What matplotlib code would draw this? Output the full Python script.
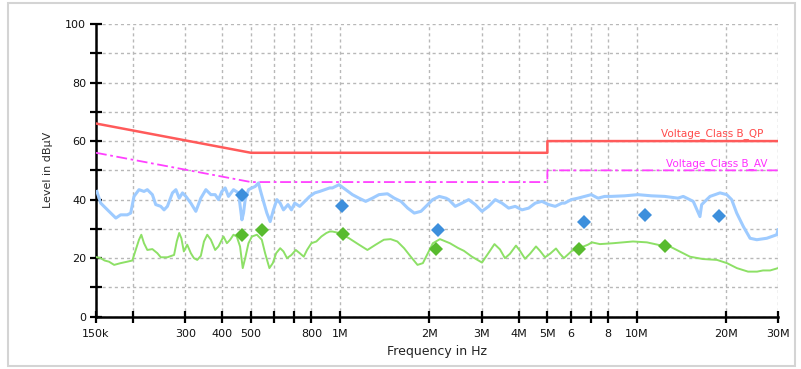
import matplotlib
matplotlib.use("Agg")
import matplotlib.pyplot as plt
from matplotlib.patches import Rectangle

# ---------------- data (frequency in MHz, level in dBuV) ----------------
qp_limit_f = [0.15, 0.5, 5.0, 5.0, 30.0]
qp_limit_v = [66, 56, 56, 60, 60]
av_limit_f = [0.15, 0.5, 5.0, 5.0, 30.0]
av_limit_v = [56, 46, 46, 50, 50]

peak_f = [0.151, 0.1556, 0.1659, 0.1750, 0.1816, 0.1913, 0.1964, 0.2015, 0.2095, 0.2178,
          0.2235, 0.2324, 0.2386, 0.2481, 0.2545, 0.2612, 0.2717, 0.2790, 0.2863, 0.2937,
          0.3015, 0.3134, 0.3258, 0.3387, 0.3522, 0.3661, 0.3786, 0.3884, 0.3988, 0.4092,
          0.4198, 0.4364, 0.4538, 0.4660, 0.4718, 0.4780, 0.4904, 0.5036, 0.5166, 0.5300,
          0.5370, 0.5509, 0.5657, 0.5804, 0.5955, 0.6115, 0.6273, 0.6436, 0.6668, 0.6847,
          0.7024, 0.7303, 0.7592, 0.7893, 0.8206, 0.8530, 0.8868, 0.9220, 0.9415, 0.9909,
          1.0438, 1.0996, 1.1574, 1.2192, 1.2845, 1.3518, 1.4433, 1.5222, 1.6035, 1.6892,
          1.7780, 1.8731, 1.9474, 2.0514, 2.1591, 2.2743, 2.3229, 2.4447, 2.5753, 2.7129,
          2.8557, 3.0083, 3.1690, 3.3357, 3.5139, 3.7015, 3.8965, 4.1045, 4.3237, 4.5513,
          4.7945, 5.0506, 5.3164, 5.6006, 5.7191, 6.0201, 6.3416, 6.6804, 7.0321, 7.4076,
          7.8034, 8.2126, 9.1158, 10.107, 11.207, 12.436, 13.788, 14.369, 15.53, 16.36,
          16.58, 17.69, 19.12, 20.14, 20.93, 21.77, 22.92, 24.15, 25.44, 27.50,
          29.71, 30.0]
peak_v = [42.8, 38.8, 36.0, 33.7, 34.8, 34.8, 35.4, 41.1, 43.4, 42.8,
          43.4, 41.7, 38.3, 37.7, 36.5, 37.7, 42.3, 43.4, 40.5, 42.3,
          41.1, 38.8, 36.0, 40.5, 43.4, 41.7, 41.7, 40.0, 42.8, 44.0,
          41.1, 43.4, 42.3, 33.1, 35.4, 40.0, 43.4, 44.0, 44.5, 45.7,
          43.4, 39.4, 35.4, 32.5, 36.5, 40.0, 38.8, 36.5, 38.3, 36.5,
          38.8, 37.7, 39.4, 41.1, 42.3, 42.8, 43.4, 44.0, 44.0, 45.1,
          43.4, 41.7, 40.5, 39.4, 40.5, 41.7, 42.0, 40.5, 39.4, 37.1,
          35.4, 36.0, 37.7, 40.0, 41.1, 40.5, 40.0, 37.7, 38.8, 40.0,
          38.3, 36.0, 37.7, 40.0, 38.8, 37.1, 37.7, 36.5, 37.1, 38.8,
          39.4, 38.3, 37.7, 38.8, 38.8, 40.0, 40.5, 41.1, 41.7, 40.5,
          41.1, 41.1, 41.3, 41.7, 41.3, 41.1, 40.5, 41.1, 39.4, 34.2,
          38.3, 41.1, 42.3, 41.7, 40.0, 35.4, 30.8, 26.8, 26.3, 26.8,
          28.0, 29.7]

avg_f = [0.151, 0.1556, 0.1603, 0.1659, 0.1727, 0.1816, 0.1913, 0.1989, 0.2042, 0.2095,
         0.2133, 0.2178, 0.2235, 0.2324, 0.2416, 0.2481, 0.2612, 0.2751, 0.2809, 0.2863,
         0.2911, 0.2968, 0.3047, 0.3134, 0.3210, 0.3294, 0.3387, 0.3470, 0.3560, 0.3661,
         0.3786, 0.3884, 0.4039, 0.4147, 0.4254, 0.4364, 0.4477, 0.4593, 0.4690, 0.4780,
         0.4904, 0.5036, 0.5235, 0.5438, 0.5580, 0.5769, 0.5924, 0.6081, 0.6273, 0.6436,
         0.6616, 0.6847, 0.7082, 0.7303, 0.7533, 0.7728, 0.7994, 0.8311, 0.8641, 0.8984,
         0.9220, 0.9415, 0.9909, 1.0712, 1.1574, 1.2354, 1.3171, 1.4041, 1.4798, 1.5587,
         1.6427, 1.7304, 1.8232, 1.9008, 1.9761, 2.0540, 2.1706, 2.3457, 2.4960, 2.6151,
         2.7831, 3.0083, 3.1518, 3.3150, 3.4594, 3.5966, 3.7393, 3.9183, 4.0420, 4.2026,
         4.3690, 4.5774, 4.7218, 4.9093, 5.1038, 5.3460, 5.5136, 5.6868, 6.0500, 6.4390,
         6.8521, 7.0681, 7.5209, 8.3217, 9.7230, 10.838, 12.270, 12.94, 15.14, 16.74,
         18.68, 20.18, 21.80, 23.77, 25.50, 26.7, 28.22, 30.0]
avg_v = [20.3, 20.0, 19.2, 18.8, 17.7, 18.3, 18.8, 19.2, 22.8, 26.3,
         28.0, 25.1, 22.8, 23.1, 21.7, 20.3, 20.3, 21.1, 25.7, 28.6,
         26.8, 22.3, 24.6, 21.7, 20.0, 19.4, 20.8, 25.7, 28.0, 26.3,
         22.8, 24.0, 27.4, 25.1, 26.3, 28.0, 27.4, 24.0, 16.6, 20.0,
         25.1, 27.4, 28.0, 26.3, 21.7, 16.6, 18.3, 21.7, 23.4, 22.3,
         20.0, 21.1, 22.8, 21.7, 20.5, 22.8, 25.1, 25.7, 27.4, 28.6,
         29.1, 29.1, 28.6, 26.8, 24.6, 22.8, 24.6, 26.3, 26.5, 25.7,
         23.4, 20.5, 17.7, 18.3, 21.7, 25.1, 26.5, 25.1, 23.5, 22.5,
         20.5, 18.5, 21.5, 24.8, 23.0, 20.0, 21.5, 24.3, 22.5, 19.8,
         21.5, 24.0, 22.5, 20.3, 21.5, 23.3, 21.5, 20.0, 22.5, 23.5,
         24.6, 25.4, 24.8, 25.1, 25.7, 25.4, 24.2, 24.0, 20.5, 19.7,
         19.4, 18.3, 16.6, 15.4, 15.4, 15.8, 15.8, 16.6]

qp_f = [0.466, 1.014, 2.14, 6.66, 10.7, 18.9]
qp_v = [41.7, 37.9, 29.7, 32.4, 34.6, 34.3]
av_f = [0.466, 0.545, 1.02, 2.10, 6.37, 12.5]
av_v = [28.0, 29.5, 28.2, 23.1, 23.1, 24.0]

xtick_vals = [0.15, 0.2, 0.3, 0.4, 0.5, 0.6, 0.7, 0.8, 1, 2, 3, 4, 5, 6, 7, 8, 10, 20, 30]
xtick_lbls = ["150k", "", "300", "400", "500", "", "", "800", "1M", "2M", "3M", "4M",
              "5M", "6", "", "8", "10M", "20M", "30M"]
ytick_vals = [0, 10, 20, 30, 40, 50, 60, 70, 80, 90, 100]
ytick_lbls = ["0", "", "20", "", "40", "", "60", "", "80", "", "100"]

# ---------------- figure ----------------
fig = plt.figure(figsize=(8.01, 3.69), dpi=100)
fig.patch.set_facecolor("white")
ax = fig.add_axes([96 / 801, 1 - 316.7 / 369, (778 - 96) / 801, (316.7 - 24) / 369])

ax.set_xscale("log")
ax.set_xlim(0.15, 30)
ax.set_ylim(0, 100)

ax.set_xticks(xtick_vals)
ax.set_xticklabels(xtick_lbls)
ax.xaxis.set_minor_locator(matplotlib.ticker.NullLocator())
ax.set_yticks(ytick_vals)
ax.set_yticklabels(ytick_lbls)

ax.grid(True, which="major", color="#b8b8b8", linestyle=(0, (2.2, 2.2)), linewidth=1.0)
ax.set_axisbelow(True)

for s in ["top", "right"]:
    ax.spines[s].set_visible(False)
for s in ["left", "bottom"]:
    ax.spines[s].set_linewidth(1.8)
    ax.spines[s].set_color("black")

ax.tick_params(axis="both", direction="inout", length=8, width=1.6, color="black",
               labelsize=8, labelcolor="#111111")
ax.tick_params(axis="x", pad=5)
ax.tick_params(axis="y", pad=3)

# limit lines
ax.plot(qp_limit_f, qp_limit_v, color="#ff5a5a", linewidth=1.8, zorder=3)
ax.plot(av_limit_f, av_limit_v, color="#ff40ff", linewidth=1.3,
        linestyle=(0, (6, 2, 1.5, 2)), zorder=3)

# traces
ax.plot(peak_f, peak_v, color="#9ecbff", linewidth=2.2, zorder=4)
ax.plot(avg_f, avg_v, color="#8de066", linewidth=1.4, zorder=4)

# final measurement markers
ax.plot(qp_f, qp_v, linestyle="none", marker="D", markersize=7.5,
        markerfacecolor="#3d8fdc", markeredgewidth=0, zorder=5)
ax.plot(av_f, av_v, linestyle="none", marker="D", markersize=7.5,
        markerfacecolor="#58bb2e", markeredgewidth=0, zorder=5)

# limit labels
ax.text(26.7, 60.6, "Voltage_Class B_QP", color="#ff4a4a", fontsize=7.5,
        ha="right", va="bottom")
ax.text(27.7, 50.6, "Voltage_Class B_AV", color="#ff30ff", fontsize=7.5,
        ha="right", va="bottom")

ax.set_xlabel("Frequency in Hz", fontsize=9, color="#222222", labelpad=4)
ax.set_ylabel("Level in dBµV", fontsize=8, color="#2a2a2a", labelpad=9)

# figure border
fig.patches.append(Rectangle((8 / 801, 3 / 369), (795 - 8) / 801, (366 - 3) / 369,
                             transform=fig.transFigure, fill=False,
                             edgecolor="#d4d4d4", linewidth=1.5))

fig.savefig("out.png", dpi=100, facecolor="white")
